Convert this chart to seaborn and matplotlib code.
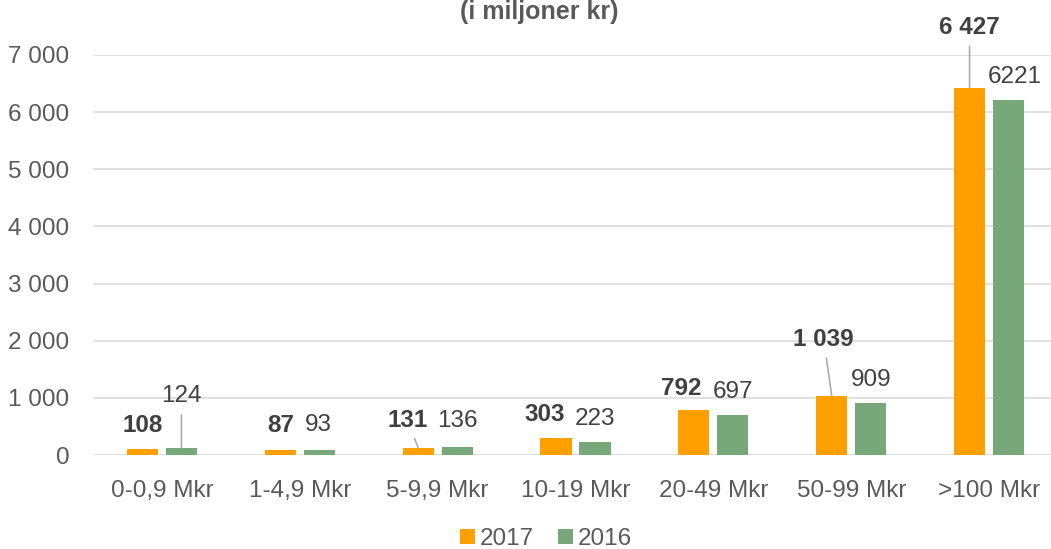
import matplotlib
matplotlib.use("Agg")
import matplotlib.pyplot as plt
import seaborn as sns
import pandas as pd
from matplotlib.patches import Patch

categories = ["0-0,9 Mkr", "1-4,9 Mkr", "5-9,9 Mkr", "10-19 Mkr", "20-49 Mkr", "50-99 Mkr", ">100 Mkr"]
values_2017 = [108, 87, 131, 303, 792, 1039, 6427]
values_2016 = [124, 93, 136, 223, 697, 909, 6221]
series = ["2017", "2016"]
yticks = [0, 1000, 2000, 3000, 4000, 5000, 6000, 7000]
title = "(i miljoner kr)"

# label offsets (pixels) relative to bar top
off_2017 = [(0, 26), (0, 27), (-11, 30), (-11, 26), (-13, 24), (-8, 59), (0, 63)]
off_2016 = [(0, 54), (-1, 27), (0, 29), (0, 26), (0, 26), (0, 26), (6, 25)]
leader_2017 = [False, False, True, False, False, True, True]
leader_2016 = [True, False, False, False, False, False, False]

colors = {"2017": "#FFA000", "2016": "#78A77A"}
tick_color = "#595959"
label_color = "#404040"

df = pd.DataFrame({
    "kategori": categories * 2,
    "ar": [series[0]] * len(categories) + [series[1]] * len(categories),
    "varde": values_2017 + values_2016,
})

sns.set_theme(style="white")
plt.rcParams["font.family"] = ["Liberation Sans", "DejaVu Sans"]
FS = 17.5

fig = plt.figure(figsize=(10.51, 5.49), dpi=100)
ax = fig.add_axes([93 / 1051, 94 / 549, 965 / 1051, 400 / 549])

sns.barplot(data=df, x="kategori", y="varde", hue="ar", hue_order=series,
            order=categories, palette=colors, width=0.566, gap=0.205,
            ax=ax, legend=False, saturation=1, edgecolor="none")

ax.set_ylim(0, 7000)
ax.set_xlim(-0.5, len(categories) - 0.5)
ax.set_yticks(yticks)
ax.set_yticklabels([f"{t:,}".replace(",", " ") for t in yticks])
ax.set_xlabel("")
ax.set_ylabel("")
ax.yaxis.grid(True, color="#D9D9D9", linewidth=1.1)
ax.set_axisbelow(True)
for s in ax.spines.values():
    s.set_visible(False)
ax.tick_params(axis="y", length=0, pad=17, labelsize=FS, labelcolor=tick_color)
ax.tick_params(axis="x", length=0, pad=18, labelsize=FS, labelcolor=tick_color)


def fmt17(v):
    return f"{v:,}".replace(",", " ")


def annotate(container, vals, offs, leaders, bold, formatter):
    for bar, v, (dx, dy), lead in zip(container.patches, vals, offs, leaders):
        x = bar.get_x() + bar.get_width() / 2
        y = bar.get_height()
        kw = dict(xy=(x, y), xytext=(dx, dy), textcoords="offset pixels",
                  ha="center", va="center_baseline", fontsize=FS,
                  color=label_color, fontweight="bold" if bold else "normal",
                  annotation_clip=False)
        if lead:
            kw["arrowprops"] = dict(arrowstyle="-", color="#A6A6A6", lw=1.1,
                                    shrinkA=3, shrinkB=0)
        ax.annotate(formatter(v), **kw)


annotate(ax.containers[0], values_2017, off_2017, leader_2017, True, fmt17)
annotate(ax.containers[1], values_2016, off_2016, leader_2016, False, str)

fig.text(539 / 1051, 1 - 19 / 549, title, ha="center", va="baseline",
         fontsize=18, fontweight="bold", color=tick_color)

handles = [Patch(facecolor=colors[s], edgecolor="none", label=s) for s in series]
fig.legend(handles=handles, loc="center", bbox_to_anchor=(546 / 1051, 1 - 539 / 549),
           ncol=2, frameon=False, fontsize=FS, labelcolor=tick_color,
           handlelength=0.6, handleheight=0.6, handletextpad=0.2, columnspacing=1.0)

fig.savefig("out.png", dpi=100)
